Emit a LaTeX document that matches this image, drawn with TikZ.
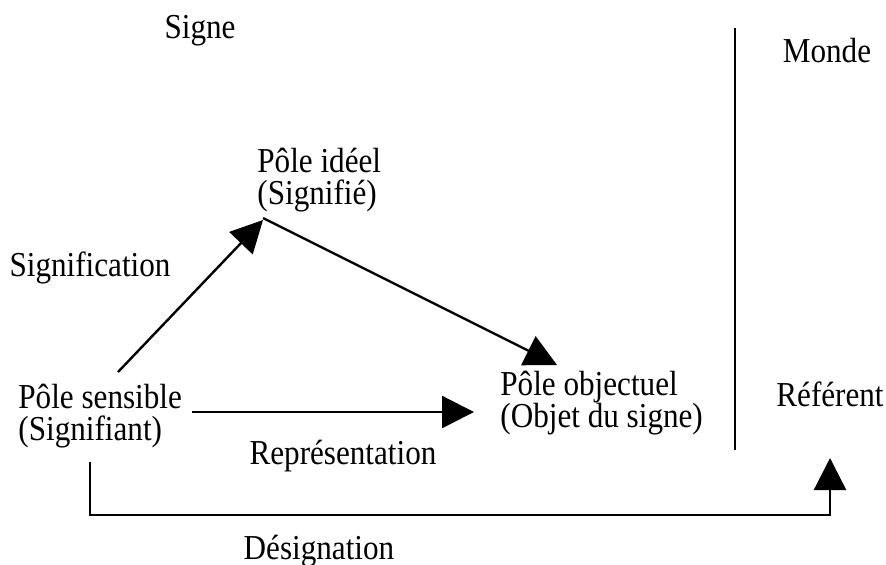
\documentclass[tikz,border=0pt]{standalone}
\usepackage{fontspec}
\setmainfont[FakeStretch=0.89]{Liberation Serif}
\usetikzlibrary{arrows.meta}
\tikzset{
  pole/.style={align=left, inner sep=1pt, anchor=base west, font=\fontsize{17.5}{16}\selectfont},
  tag/.style={inner sep=1pt, anchor=base, font=\fontsize{17.5}{16}\selectfont},
  bigarrow/.style={-{Triangle[length=16pt,width=16pt]}, line width=1.2pt},
}

\begin{document}
\begin{tikzpicture}[x=0.5pt, y=-0.5pt]
\useasboundingbox (0,0) rectangle (886,564);
\node[tag] (signe) at (200,38) {Signe};
\node[tag] (monde) at (827,62) {Monde};
\node[pole] (ideel) at (255,204) {Pôle idéel\\(Signifié)};
\node[pole] (sens) at (16,440) {Pôle sensible\\(Signifiant)};
\node[pole] (obj) at (498,427) {Pôle objectuel\\(Objet du signe)};
\node[tag] (ref) at (830,406) {Référent};
\node[tag] (signif) at (90,276) {Signification};
\node[tag] (repr) at (343,464) {Représentation};
\node[tag] (desig) at (319,559) {Désignation};

% separation signe / monde
\draw[line width=0.6pt] (735,28) -- (735,450);

\draw[bigarrow] ([shift={(102,-68)}]sens.base west) -- ([shift={(8,16)}]ideel.base west);
\draw[bigarrow] ([shift={(8,14)}]ideel.base west) -- ([shift={(59,-62)}]obj.base west);
\draw[bigarrow] ([shift={(176,-28)}]sens.base west) -- ([shift={(-24,-15)}]obj.base west);
\draw[bigarrow] ([shift={(74,22)}]sens.base west) -- ++(0,53) -| ([shift={(0,52)}]ref.base);
\end{tikzpicture}
\end{document}
